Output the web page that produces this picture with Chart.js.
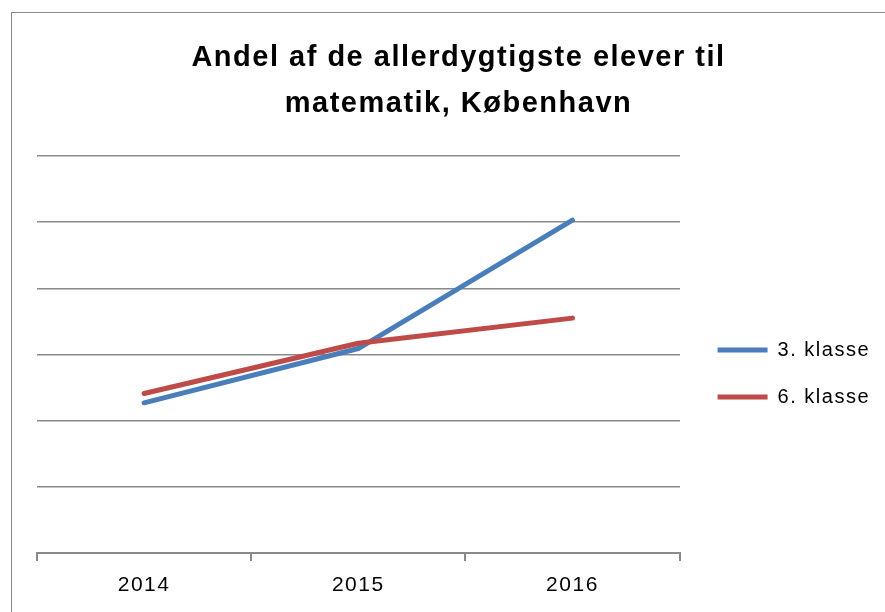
<!DOCTYPE html>
<html>
<head>
<meta charset="utf-8">
<script src="https://cdn.jsdelivr.net/npm/chart.js@4/dist/chart.umd.min.js"></script>
<style>
  html, body { margin: 0; padding: 0; background: #fff; }
  #wrap { position: relative; width: 885px; height: 612px; overflow: hidden; }
  #frame { position: absolute; left: 11px; top: 12px; width: 900px; height: 700px; border: 1px solid #8a8a8a; }
  #myChart { position: absolute; left: 0; top: 0; }
</style>
</head>
<body>
<div id="wrap">
  <div id="frame"></div>
  <canvas id="myChart" width="885" height="612"></canvas>
</div>
<script>
// dati (nessuna etichetta sull'asse y, scala 0-6)
const years = ['2014', '2015', '2016']
const klasse3 = [2.27, 3.09, 5.03]
const klasse6 = [2.41, 3.17, 3.55]
const seriesNames = ['3. klasse', '6. klasse']

const grey = '#8a8a8a'

// spaziatura delle lettere come nel grafico originale
const spacing = {
  id: 'spacing',
  beforeLayout(chart) { chart.ctx.letterSpacing = '1.5px' },
  beforeDraw(chart) { chart.ctx.letterSpacing = '1.5px' },
}

const ctx = document.getElementById('myChart')

new Chart(ctx, {
  type: 'line',
  plugins: [spacing],
  data: {
    labels: years,
    datasets: [
      {
        label: seriesNames[0],
        data: klasse3,
        borderColor: '#4a7ebb',
        backgroundColor: '#4a7ebb',
        borderWidth: 5,
        borderCapStyle: 'round',
        order: 2,
      },
      {
        label: seriesNames[1],
        data: klasse6,
        borderColor: '#be4b48',
        backgroundColor: '#be4b48',
        borderWidth: 5,
        borderCapStyle: 'round',
        order: 1,
      },
    ],
  },
  options: {
    responsive: false,
    animation: false,
    devicePixelRatio: 1,
    layout: { padding: { left: 37, right: 5, top: 0, bottom: 2 } },
    elements: {
      line: { borderJoinStyle: 'round', tension: 0, fill: false },
      point: { radius: 0, hoverRadius: 0 },
    },
    scales: {
      x: {
        offset: true,
        grid: { offset: true, drawOnChartArea: false, drawTicks: true, tickLength: 8, color: grey, lineWidth: 2 },
        border: { display: true, color: grey, width: 2 },
        ticks: { color: '#000', font: { family: 'Liberation Sans', size: 21, lineHeight: 1 }, padding: 14 },
      },
      y: {
        position: 'right',
        min: 0,
        max: 6,
        afterFit(scale) { scale.width = 11 },
        ticks: { stepSize: 1, display: false },
        grid: { color: grey, lineWidth: 1.5, drawTicks: false },
        border: { display: false },
      },
    },
    plugins: {
      title: {
        display: true,
        text: ['Andel af de allerdygtigste elever til', 'matematik, København'],
        color: '#000',
        font: { family: 'Liberation Sans', size: 29, weight: 'bold', lineHeight: '46px' },
        padding: { top: 35, bottom: 29 },
      },
      legend: {
        position: 'right',
        fullSize: false,
        align: 'center',
        title: { display: true, text: ' ', font: { size: 10 }, padding: { top: 13, bottom: 13 } },
        labels: {
          usePointStyle: true,
          pointStyle: 'line',
          pointStyleWidth: 50,
          boxHeight: 5,
          padding: 27,
          color: '#000',
          font: { family: 'Liberation Sans', size: 20 },
          sort: (a, b) => a.datasetIndex - b.datasetIndex,
        },
      },
      tooltip: { enabled: false },
    },
  },
})
</script>
</body>
</html>
